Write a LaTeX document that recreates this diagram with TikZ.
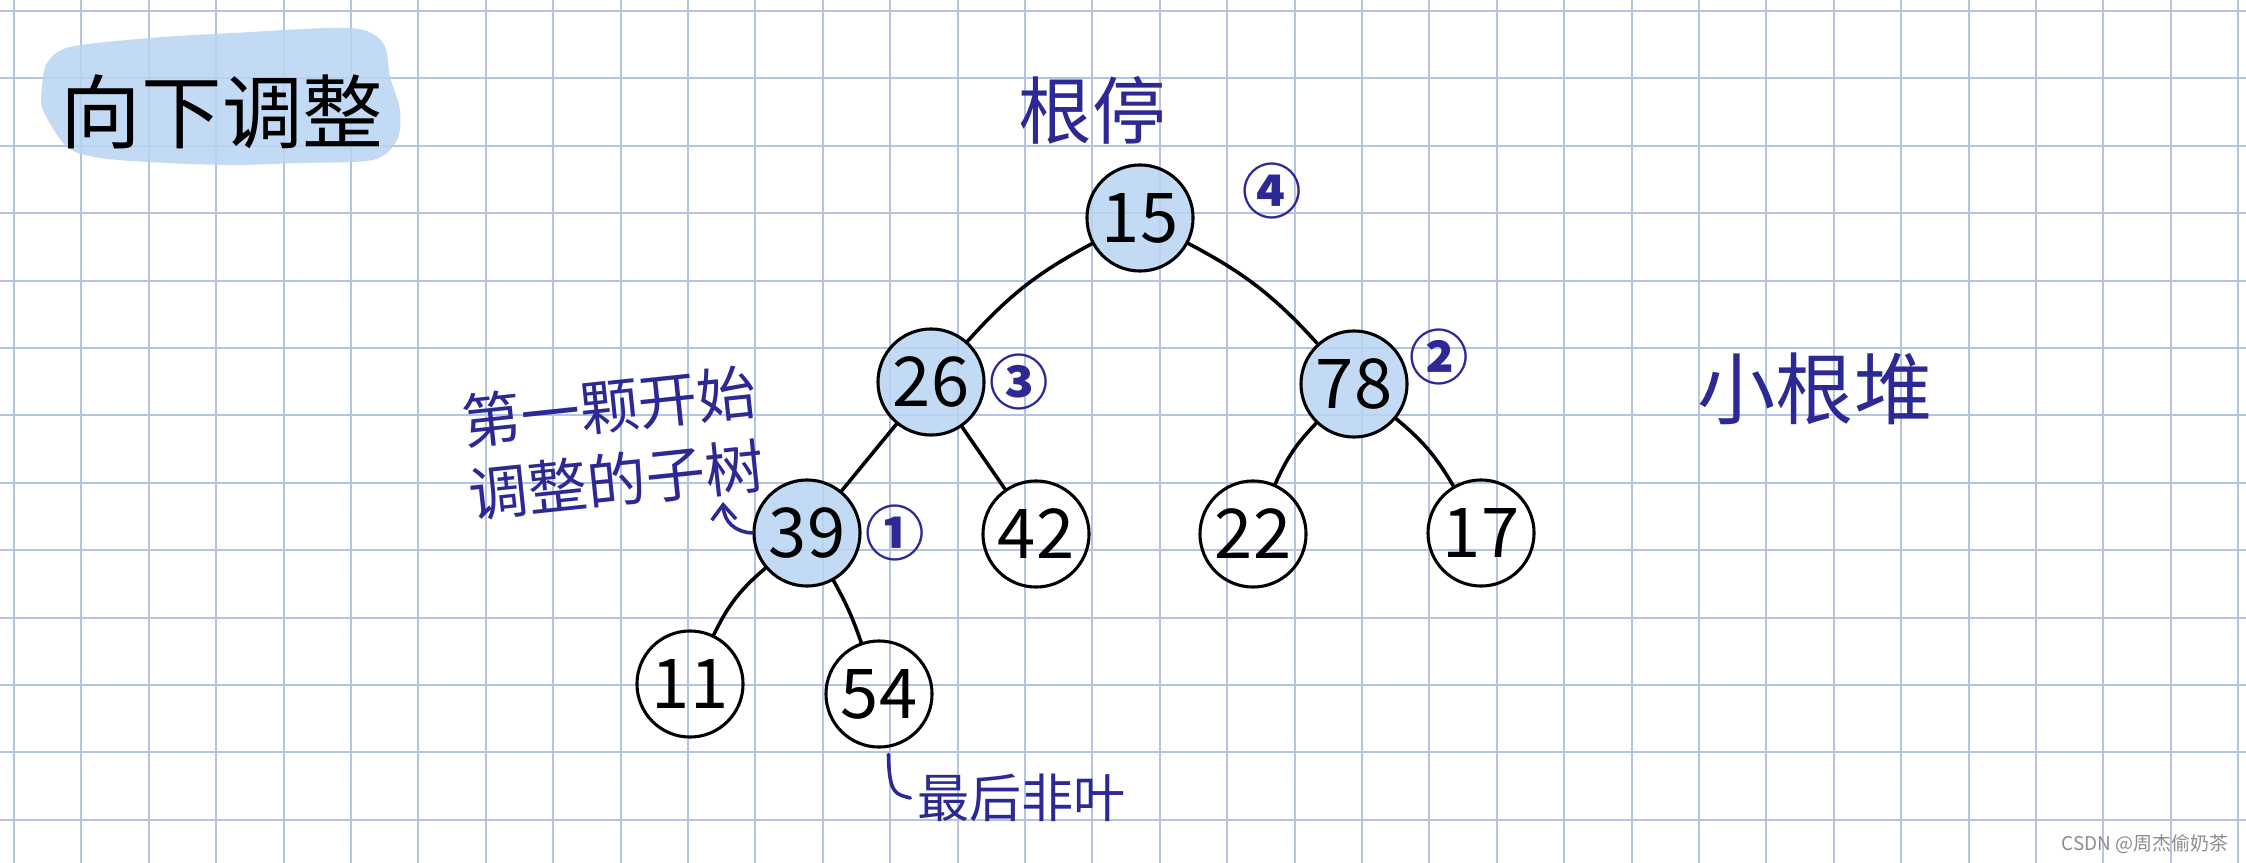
\documentclass[tikz,border=0pt]{standalone}
\usepackage{fontspec}
\usepackage{tikz}
\usetikzlibrary{arrows.meta,positioning}
\usepackage{xcolor}
\newfontfamily\cjk{Noto Sans CJK SC}
\definecolor{gridblue}{RGB}{180,196,224}
\definecolor{heapfill}{RGB}{184,212,241}
\definecolor{inkblue}{RGB}{44,40,148}
\definecolor{markgray}{RGB}{140,140,140}
\newcommand{\fs}[1]{\fontsize{#1}{1.25\dimexpr#1\relax}\selectfont}

\begin{document}
\begin{tikzpicture}[
  x=0.014837cm, y=-0.014837cm,
  gridline/.style={draw=gridblue, line width=0.85pt},
  heap/.style={circle, draw, line width=1.3pt, minimum size=1.573cm, inner sep=0pt, font=\cjk\fs{29pt}},
  done/.style={heap, fill=heapfill, fill opacity=0.85, text opacity=1},
  edge/.style={line width=1.5pt, line cap=round},
  ink/.style={text=inkblue, inner sep=0pt},
  num/.style={ink, font=\cjk\bfseries\fs{25pt}},
  inkline/.style={draw=inkblue, line width=1.5pt, line cap=round},
  node distance=1mm]
% --- paper ---
\fill[white] (0,0) rectangle (2246,863);
\useasboundingbox (0,0) rectangle (2246,863);
\foreach \k in {0,...,33} \draw[gridline] ({14+67.4*\k},0) -- ({14+67.4*\k},863);
\foreach \k in {0,...,12} \draw[gridline] (0,{11+67.4*\k}) -- (2246,{11+67.4*\k});
% --- title ---
\fill[heapfill, fill opacity=0.85] plot[smooth cycle] coordinates {(47,63) (70,47) (150,38) (233,33) (350,28) (383,43) (390,77) (400,110) (397,140) (373,160) (300,163) (233,165) (167,163) (100,158) (67,147) (43,110) (42,87)};
\node[inner sep=0pt, font=\cjk\fs{34pt}] (title) at (222,112) {向下调整};
% --- heap ---
\node[done] (n15) at (1140,218) {15};
\node[done] (n26) at (931,382) {26};
\node[done] (n78) at (1354,384) {78};
\node[done] (n39) at (807,533) {39};
\node[heap] (n42) at (1036,534) {42};
\node[heap] (n22) at (1253,534) {22};
\node[heap] (n17) at (1481,533) {17};
\node[heap] (n11) at (690,684) {11};
\node[heap] (n54) at (879,694) {54};
\draw[edge] (n15) to[bend right=10] (n26);
\draw[edge] (n15) to[bend left=10] (n78);
\draw[edge] (n26) -- (n39);
\draw[edge] (n26) -- (n42);
\draw[edge] (n78) to[bend right=10] (n22);
\draw[edge] (n78) to[bend left=10] (n17);
\draw[edge] (n39) to[bend right=12] (n11);
\draw[edge] (n39) to[bend left=5] (n54);
% --- order of adjusting ---
\node[num, right=0.5mm of n39] (o1) {①};
\node[num, right=0.5mm of n26] (o3) {③};
\node[num, right=0mm of n78, yshift=4mm] (o2) {②};
\node[num, right=7mm of n15, yshift=4mm] (o4) {④};
% --- notes ---
\node[ink, font=\cjk\fs{31pt}] (stop) at (1092,110) {根停};
\node[ink, font=\cjk\fs{33pt}] (kind) at (1815,389) {小根堆};
\node[ink, font=\cjk\fs{25pt}, align=center, rotate=6] (first) at (613,443) {第一颗开始\\调整的子树};
\node[ink, font=\cjk\fs{22pt}, anchor=west] (leaf) at (917,798) {最后非叶};
\coordinate (tip39) at (723,502);
\draw[inkline, -{Straight Barb[length=2.2mm, width=3.6mm]}] (n39.west) .. controls (735,532) and (724,522) .. (tip39);
\draw[inkline] ([yshift=-1mm]n54.-80) .. controls (889,795) and (896,794) .. ([xshift=-1mm]leaf.west);
% --- watermark ---
\node[text=markgray, inner sep=0pt, font=\cjk\fs{8pt}] (mark) at (2145,844) {CSDN @周杰偷奶茶};
\end{tikzpicture}
\end{document}
